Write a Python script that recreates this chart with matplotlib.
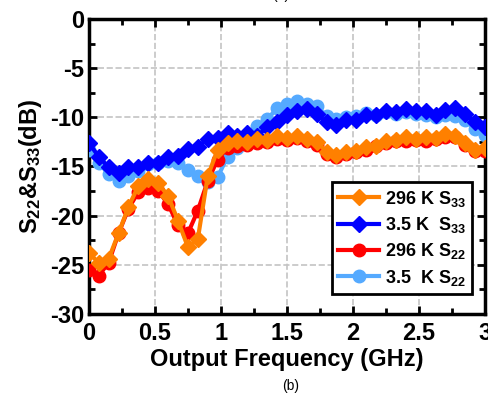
import matplotlib
matplotlib.use('Agg')
import matplotlib.pyplot as plt
from matplotlib.ticker import MultipleLocator

plt.rcParams['font.family'] = ['Liberation Sans', 'DejaVu Sans']
plt.rcParams['font.weight'] = 'bold'
plt.rcParams['mathtext.fontset'] = 'custom'
plt.rcParams['mathtext.rm'] = 'Liberation Sans:bold'
plt.rcParams['mathtext.bf'] = 'Liberation Sans:bold'
plt.rcParams['mathtext.it'] = 'Liberation Sans:bold'
plt.rcParams['mathtext.default'] = 'rm'
plt.rcParams['axes.unicode_minus'] = False

# frequency points (GHz)
freq = [0.0, 0.075, 0.15, 0.225, 0.3, 0.375, 0.45, 0.525, 0.6, 0.675,
        0.75, 0.825, 0.9, 0.975, 1.05, 1.125, 1.2, 1.275, 1.35, 1.425,
        1.5, 1.575, 1.65, 1.725, 1.8, 1.875, 1.95, 2.025, 2.1, 2.175,
        2.25, 2.325, 2.4, 2.475, 2.55, 2.625, 2.7, 2.775, 2.85, 2.925, 3.0]

# 296 K S33
s33_296 = [-23.8, -24.8, -24.4, -21.8, -19.1, -17.0, -16.3, -16.7, -18.0, -20.5,
           -23.2, -22.4, -16.0, -13.3, -12.6, -12.4, -12.5, -12.2, -12.3, -11.9,
           -12.1, -11.9, -12.2, -12.5, -13.5, -13.8, -13.5, -13.4, -13.0, -12.9,
           -12.4, -12.3, -12.0, -12.2, -12.0, -12.1, -11.7, -11.9, -12.6, -13.3,
           -13.1]
# 3.5 K S33
s33_35 = [-12.6, -14.0, -15.1, -15.7, -15.1, -15.1, -14.6, -14.6, -14.0, -13.9,
          -13.2, -13.0, -12.2, -12.1, -11.6, -11.9, -11.6, -11.9, -11.0, -10.5,
          -9.8, -9.4, -9.2, -9.7, -10.5, -10.8, -10.3, -10.3, -9.8, -9.8,
          -9.4, -9.5, -9.2, -9.4, -9.4, -9.8, -9.3, -9.1, -9.7, -10.5,
          -11.0]
# 296 K S22
s22_296 = [-25.5, -26.1, -24.8, -21.8, -19.3, -17.6, -17.2, -17.5, -18.8, -21.0,
           -21.8, -19.5, -16.5, -14.3, -13.1, -12.9, -12.8, -12.6, -12.5, -12.2,
           -12.3, -12.1, -12.4, -12.8, -13.7, -14.0, -13.7, -13.5, -13.3, -12.9,
           -12.6, -12.4, -12.4, -12.3, -12.4, -12.2, -12.0, -12.0, -12.8, -13.4,
           -13.4]
# 3.5 K S22
s22_35 = [-13.3, -14.6, -15.8, -16.5, -16.0, -15.5, -14.8, -14.6, -14.4, -14.7,
          -15.4, -16.0, -16.6, -16.1, -14.0, -13.1, -12.2, -10.9, -10.2, -9.1,
          -8.6, -8.3, -8.6, -8.9, -9.9, -10.2, -10.0, -9.9, -9.6, -9.8,
          -9.5, -9.7, -9.5, -9.7, -9.8, -10.0, -9.8, -9.9, -10.3, -11.2,
          -11.8]

series = [
    (s33_296, '#FF8000', 'D', '296 K S$_{33}$'),
    (s33_35, '#0000FF', 'D', '3.5 K  S$_{33}$'),
    (s22_296, '#FF0000', 'o', '296 K S$_{22}$'),
    (s22_35, '#55AAFF', 'o', '3.5  K S$_{22}$'),
]

fig = plt.figure(figsize=(4.88, 4.04), dpi=100)
ax = fig.add_axes([0.182, 0.223, 0.812, 0.730])

# draw back to front so orange and blue diamonds sit on top
for idx in [3, 2, 1, 0]:
    y, c, m, lab = series[idx]
    ax.plot(freq, y, color=c, marker=m, markersize=8.5 if m == 'D' else 9,
            linewidth=3, label=lab, zorder=3 + (3 - idx))

ax.set_xlim(0, 3)
ax.set_ylim(-30, 0)
ax.xaxis.set_major_locator(MultipleLocator(0.5))
ax.xaxis.set_minor_locator(MultipleLocator(0.25))
ax.yaxis.set_major_locator(MultipleLocator(5))
ax.yaxis.set_minor_locator(MultipleLocator(2.5))
ax.set_xticks([0, 0.5, 1, 1.5, 2, 2.5, 3])
ax.set_xticklabels(['0', '0.5', '1', '1.5', '2', '2.5', '3'])
ax.tick_params(which='both', direction='in', top=True, right=True,
               labelsize=17, width=2)
ax.tick_params(axis='x', pad=6)
ax.tick_params(which='major', length=6)
ax.tick_params(which='minor', length=4)
for sp in ax.spines.values():
    sp.set_linewidth(2.5)

ax.grid(True, which='major', color='#C4C4C4', linestyle='--', linewidth=1.2)

ax.set_xlabel('Output Frequency (GHz)', fontsize=17, fontweight='bold', labelpad=2)
ax.set_ylabel('S$_{22}$&S$_{33}$(dB)', fontsize=17, fontweight='bold', labelpad=4)

handles, labels = ax.get_legend_handles_labels()
order = [3, 2, 1, 0]
leg = ax.legend([handles[i] for i in order], [labels[i] for i in order],
                loc='lower right', bbox_to_anchor=(0.99, 0.037),
                fontsize=13, handlelength=2.3, handletextpad=0.3,
                borderpad=0.35, labelspacing=0.35, fancybox=False,
                framealpha=1, edgecolor='black')
leg.get_frame().set_linewidth(2)

fig.text(0.595, 0.045, '(b)', ha='center', va='center', fontsize=10, fontweight='normal')
fig.text(0.575, 1.012, '(a)', ha='center', va='center', fontsize=10, fontweight='normal')

fig.savefig('out.png', dpi=100)
